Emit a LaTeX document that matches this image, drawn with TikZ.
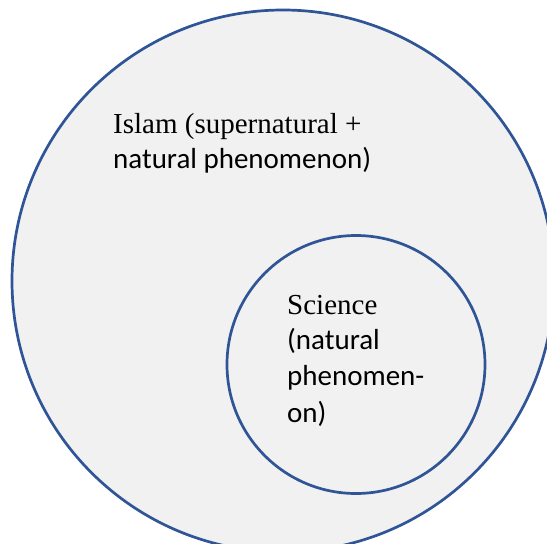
\documentclass[tikz,border=0pt]{standalone}
\usepackage{fontspec}
\setmainfont{Carlito}
\newfontfamily\seriffont{Liberation Serif}
\definecolor{ringblue}{HTML}{2F5597}
\definecolor{discfill}{HTML}{F1F1F1}
\tikzset{
  ring/.style={draw=ringblue, line width=2.7pt, fill=discfill},
  txt/.style={anchor=base west, inner sep=0pt, font=\fontsize{29}{35}\selectfont}
}
\begin{document}
\begin{tikzpicture}[x=1pt,y=-1pt]
\useasboundingbox (0,0) rectangle (547,544);
\begin{scope}
\clip (0,0) rectangle (547,544);
\node[ring, circle, minimum size=542pt, inner sep=0pt] (islam) at (283,281) {};
\node[ring, circle, minimum size=258pt, inner sep=0pt] (science) at (356,364.5) {};
\end{scope}
\node[txt] (islamA) at (113,133) {\seriffont Islam (supernatural +};
\node[txt] (islamB) at (113,168) {natural phenomenon)};
\node[txt] (sciA) at (287,314) {\seriffont Science};
\node[txt] (sciB) at (287,349) {(natural};
\node[txt] (sciC) at (287,385) {phenomen-};
\node[txt] (sciD) at (287,422) {on)};
\end{tikzpicture}
\end{document}
